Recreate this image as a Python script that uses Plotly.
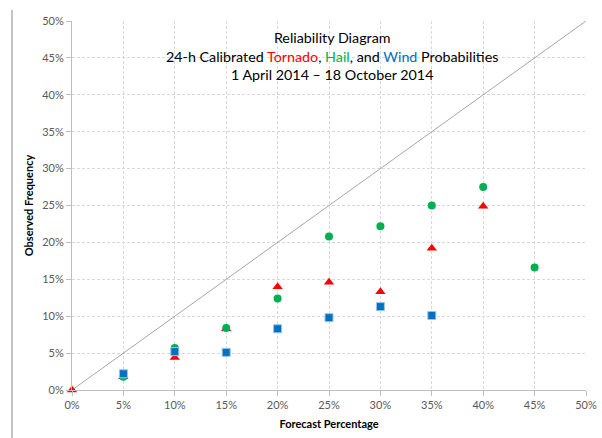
import plotly.graph_objects as go

forecast = [0, 5, 10, 15, 20, 25, 30, 35, 40, 45]
tornado = [0.0, 1.8, 4.4, 8.3, 14.0, 14.6, 13.3, 19.2, 24.9, None]
hail = [None, 1.8, 5.7, 8.4, 12.4, 20.8, 22.2, 25.0, 27.5, 16.6]
wind = [None, 2.2, 5.2, 5.1, 8.3, 9.8, 11.3, 10.1, None, None]
diag = [0, 50]
tick_vals = [0, 5, 10, 15, 20, 25, 30, 35, 40, 45, 50]
tick_text = [f"{v}%" for v in tick_vals]

FONT = "Lato"
fig = go.Figure()
fig.add_trace(go.Scatter(x=diag, y=diag, mode="lines",
                         line=dict(color="#A6A6A6", width=1), hoverinfo="skip",
                         showlegend=False))
fig.add_trace(go.Scatter(x=forecast, y=tornado, mode="markers", name="Tornado",
                         marker=dict(symbol="triangle-up", size=9, color="#FF0000"),
                         cliponaxis=False, showlegend=False))
fig.add_trace(go.Scatter(x=forecast, y=hail, mode="markers", name="Hail",
                         marker=dict(symbol="circle", size=8, color="#00B050"),
                         cliponaxis=False, showlegend=False))
fig.add_trace(go.Scatter(x=forecast, y=wind, mode="markers", name="Wind",
                         marker=dict(symbol="square", size=8, color="#0070C0",
                                     line=dict(color="#9DC3E6", width=1)),
                         cliponaxis=False, showlegend=False))

axis_common = dict(range=[0, 50], tickmode="array", tickvals=tick_vals, ticktext=tick_text,
                   showgrid=True, gridcolor="#D9D9D9", griddash="3px,2px", gridwidth=1,
                   showline=True, linecolor="#BFBFBF", linewidth=1,
                   ticks="outside", ticklen=5, tickcolor="#BFBFBF", automargin=False,
                   zeroline=False, tickfont=dict(family=FONT, size=11, color="#595959"))

fig.update_xaxes(**axis_common,
                 title=dict(text="<b>Forecast Percentage</b>", standoff=10,
                            font=dict(family=FONT, size=11, color="#000000")))
fig.update_yaxes(**axis_common,
                 title=dict(text="<b>Observed Frequency</b>", standoff=6,
                            font=dict(family=FONT, size=11, color="#000000")))

fig.add_annotation(xref="paper", yref="paper", x=0.505, y=0.985, xanchor="center",
                   yanchor="top", showarrow=False, align="center",
                   font=dict(family=FONT, size=14.3, color="#000000"),
                   text="Reliability Diagram<br>24-h Calibrated "
                        "<span style='color:#FF0000'>Tornado</span>, "
                        "<span style='color:#00B050'>Hail</span>, and "
                        "<span style='color:#0070C0'>Wind</span> Probabilities<br>"
                        "1 April 2014 \u2013 18 October 2014")

fig.add_shape(type="line", xref="paper", yref="paper",
              x0=-0.1167, x1=-0.1167, y0=1.03, y1=-0.14,
              line=dict(color="#8C8C8C", width=1))

fig.update_layout(width=602, height=438,
                  margin=dict(l=72, r=16, t=21, b=48),
                  paper_bgcolor="white", plot_bgcolor="white",
                  font=dict(family=FONT))
fig.write_html("out.html", config={"displayModeBar": False},
               post_script="document.body.style.margin='0';document.body.style.overflow='hidden';")
